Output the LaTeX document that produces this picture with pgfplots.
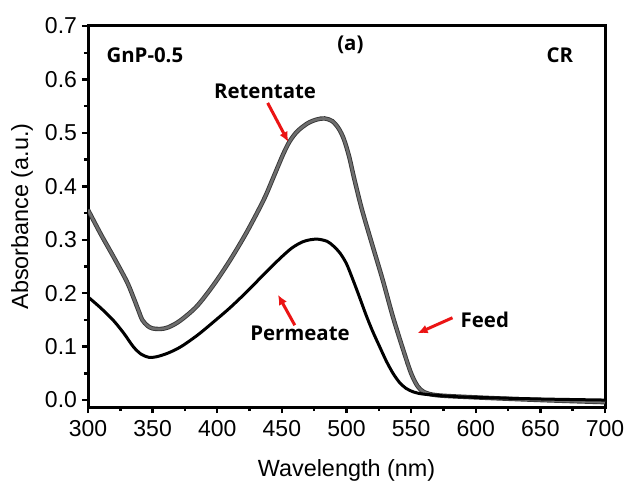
\documentclass[border=0pt]{standalone}
\usepackage{fontspec}
\setmainfont{Liberation Sans}
\newfontfamily\annot{Open Sans}
\usepackage{pgfplots}
\pgfplotsset{compat=1.18}
\usetikzlibrary{arrows.meta}
\definecolor{redarrow}{RGB}{235,20,20}
\definecolor{grayline}{RGB}{110,110,110}
\definecolor{grayedge}{RGB}{55,55,55}
\begin{document}
\begin{tikzpicture}
\path[use as bounding box] (-44bp,-38.5bp) rectangle (270.5bp,203.5bp);
\begin{axis}[
  at={(0,0)}, anchor=south west,
  scale only axis, width=258.5bp, height=190.5bp,
  xmin=300, xmax=700, ymin=-0.013, ymax=0.7,
  xtick={300,350,...,700}, ytick={0,0.1,...,0.7},
  minor x tick num=1, minor y tick num=1,
  xtick pos=left, ytick pos=left, tick align=outside,
  major tick length=3bp, minor tick length=2bp,
  axis line style={line width=1.5bp},
  every tick/.style={line width=1.2bp, black},
  every minor tick/.style={line width=1.2bp, black},
  /pgf/number format/assume math mode=true,
  yticklabel style={/pgf/number format/fixed, /pgf/number format/fixed zerofill, /pgf/number format/precision=1, xshift=1bp},
  xticklabel style={/pgf/number format/1000 sep={}},
  tick label style={font=\fontsize{11.5bp}{13bp}\selectfont},
  xlabel={Wavelength (nm)}, ylabel={Absorbance (a.u.)},
  every axis x label/.style={at={(axis description cs:0.5,-0.1654)}, anchor=center, font=\fontsize{11.7bp}{13bp}\selectfont},
  every axis y label/.style={at={(axis description cs:-0.1277,0.5)}, anchor=center, rotate=90, font=\fontsize{11.7bp}{13bp}\selectfont},
  clip=true,
]
% Retentate / Feed (gray)
\pgfplotstableread{
x y
300 0.356
310 0.310
320 0.267
330 0.222
335 0.193
339 0.168
342 0.150
346 0.139
350 0.134
356 0.133
362 0.136
371 0.148
384 0.175
397 0.215
410 0.262
423 0.315
436 0.375
444 0.420
451 0.460
456 0.484
462 0.503
470 0.518
477 0.525
483 0.527
489 0.522
494 0.508
498 0.488
502 0.456
506 0.414
512 0.356
520 0.290
528 0.225
536 0.155
544 0.093
550 0.050
555 0.026
560 0.015
570 0.009
600 0.005
650 0.000
700 -0.004
}\gray
\pgfplotstableread{
x y
300 0.193
310 0.172
320 0.148
328 0.124
335 0.100
341 0.086
347 0.080
353 0.081
362 0.088
372 0.100
385 0.122
398 0.148
410 0.173
423 0.203
436 0.235
449 0.266
458 0.285
466 0.296
472 0.300
478 0.301
485 0.297
490 0.288
495 0.275
500 0.255
505 0.225
510 0.193
515 0.160
520 0.130
526 0.098
531 0.072
536 0.050
541 0.033
546 0.022
552 0.015
560 0.011
580 0.007
600 0.005
650 0.002
700 0.000
}\perm
\addplot[grayedge, line width=2.2bp, smooth, tension=0.5] table {\gray};
\addplot[grayline, line width=1.3bp, smooth, tension=0.5] table {\gray};
% Permeate (black)
\addplot[black, line width=1.5bp, smooth, tension=0.5] table {\perm};
% annotations
\node[font=\annot\bfseries\fontsize{10.2bp}{12bp}\selectfont] at (axis cs:344,0.646) {GnP-0.5};
\node[font=\annot\bfseries\fontsize{10.2bp}{12bp}\selectfont] at (axis cs:503,0.665) {(a)};
\node[font=\annot\bfseries\fontsize{10.2bp}{12bp}\selectfont] at (axis cs:665,0.646) {CR};
\node[font=\annot\bfseries\fontsize{10.2bp}{12bp}\selectfont] at (axis cs:437,0.577) {Retentate};
\node[font=\annot\bfseries\fontsize{10.2bp}{12bp}\selectfont] at (axis cs:464,0.125) {Permeate};
\node[font=\annot\bfseries\fontsize{10.2bp}{12bp}\selectfont] at (axis cs:607,0.150) {Feed};
\draw[redarrow, line width=1.5bp, -{Latex[length=5bp,width=4.5bp]}] (axis cs:439,0.556) -- (axis cs:455,0.483);
\draw[redarrow, line width=1.5bp, -{Latex[length=5bp,width=4.5bp]}] (axis cs:460,0.140) -- (axis cs:447,0.197);
\draw[redarrow, line width=1.5bp, -{Latex[length=5bp,width=4.5bp]}] (axis cs:582,0.154) -- (axis cs:555,0.125);
\end{axis}
\end{tikzpicture}
\end{document}
